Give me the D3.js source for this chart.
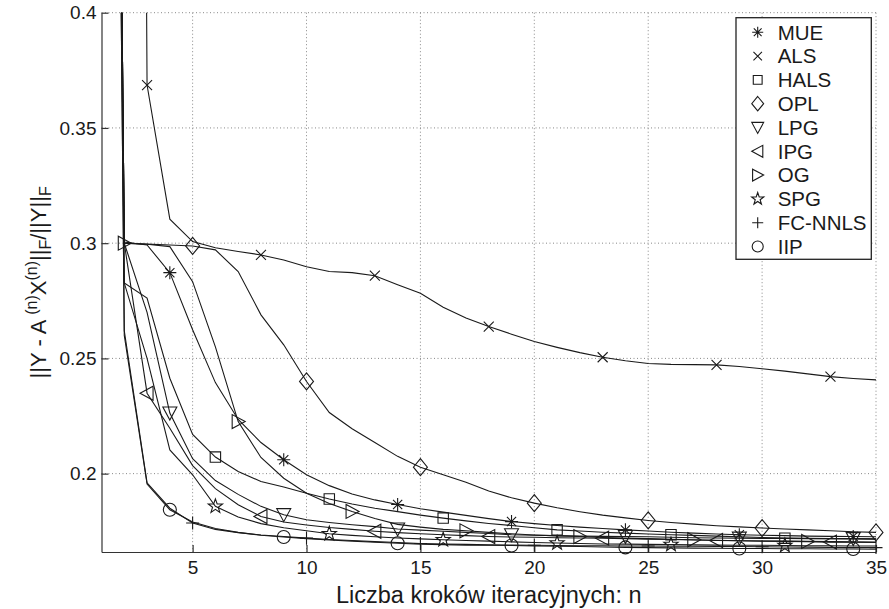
<!DOCTYPE html>
<html>
<head>
<meta charset="utf-8">
<script src="https://cdn.jsdelivr.net/npm/d3@7"></script>
<style>
  body { margin: 0; background: #fff; }
  svg { display: block; font-family: "Liberation Sans", Arial, sans-serif; }
</style>
</head>
<body>
<div id="chart"></div>
<script>
// iteration steps 1..35
var steps = d3.range(1, 36);

var names = ["MUE", "ALS", "HALS", "OPL", "LPG", "IPG", "OG", "SPG", "FC-NNLS", "IIP"];
var symbols = ["asterisk", "cross", "square", "diamond", "triDown", "triLeft", "triRight", "star", "plus", "circle"];
// first step carrying a marker (then every 5 steps)
var markerStart = [4, 3, 1, 5, 4, 3, 2, 1, 5, 4];

var xTicks = [5, 10, 15, 20, 25, 30, 35];
var yTicks = [0.2, 0.25, 0.3, 0.35, 0.4];

var mue = [1.3, 0.3005, 0.2992, 0.2872, 0.2624, 0.2395, 0.2235, 0.2135, 0.206, 0.1995, 0.1948, 0.1912, 0.1886, 0.1866, 0.1848,
  0.1833, 0.1819, 0.1805, 0.1792, 0.1783, 0.1775, 0.1768, 0.1762, 0.1756, 0.1751, 0.1746, 0.1742, 0.1738, 0.1735, 0.1733,
  0.1731, 0.1729, 0.1728, 0.1727, 0.1726];
var als = [2.4, 2.0, 0.3686, 0.3104, 0.3007, 0.298, 0.2964, 0.2949, 0.2927, 0.2898, 0.2877, 0.2872, 0.2859, 0.282, 0.2783,
  0.2722, 0.2675, 0.2638, 0.2605, 0.2573, 0.2548, 0.2525, 0.2505, 0.249, 0.2478, 0.2474, 0.2473, 0.2472, 0.2465, 0.2455,
  0.2445, 0.2433, 0.2421, 0.2413, 0.2407];
var hals = [1.3, 0.2827, 0.2762, 0.2414, 0.217, 0.2072, 0.2009, 0.1966, 0.1942, 0.1915, 0.189, 0.1868, 0.185, 0.1835, 0.182,
  0.1807, 0.1795, 0.1784, 0.1775, 0.1765, 0.1756, 0.1751, 0.1746, 0.1742, 0.1738, 0.1735, 0.1732, 0.1729, 0.1726, 0.1723,
  0.172, 0.1719, 0.1718, 0.1717, 0.1716];
var opl = [1.3, 0.3, 0.2996, 0.2992, 0.2988, 0.2971, 0.2877, 0.2689, 0.2559, 0.24, 0.2265, 0.2195, 0.2135, 0.2075, 0.2028,
  0.1995, 0.1963, 0.1925, 0.1895, 0.1872, 0.1852, 0.1835, 0.182, 0.1808, 0.1797, 0.1788, 0.1781, 0.1774, 0.1769, 0.1764,
  0.176, 0.1756, 0.1752, 0.1748, 0.1745];
var lpg = [1.3, 0.3, 0.27, 0.2263, 0.2065, 0.197, 0.191, 0.1858, 0.1822, 0.18, 0.1788, 0.1778, 0.177, 0.176, 0.1755,
  0.175, 0.1745, 0.174, 0.1735, 0.1733, 0.1731, 0.1729, 0.1728, 0.1727, 0.1726, 0.1724, 0.1722, 0.1721, 0.172, 0.1719,
  0.1719, 0.1718, 0.1718, 0.1718, 0.1717];
var ipg = [1.3, 0.3, 0.2349, 0.2197, 0.2035, 0.1935, 0.1865, 0.1814, 0.179, 0.1777, 0.1766, 0.1758, 0.175, 0.1744, 0.1739,
  0.1735, 0.1731, 0.1727, 0.1725, 0.1724, 0.1722, 0.1721, 0.172, 0.1718, 0.1716, 0.1714, 0.1712, 0.171, 0.1709, 0.1707,
  0.1706, 0.1705, 0.1703, 0.1702, 0.1701];
var og = [1.3, 0.3, 0.2995, 0.2985, 0.2833, 0.255, 0.2226, 0.207, 0.198, 0.1915, 0.187, 0.1836, 0.1805, 0.178, 0.1768,
  0.1758, 0.1752, 0.1745, 0.1739, 0.1734, 0.173, 0.1727, 0.1723, 0.172, 0.1718, 0.1715, 0.1713, 0.1711, 0.1709, 0.1708,
  0.1707, 0.1706, 0.1705, 0.1704, 0.1703];
var spg = [1.3, 0.2827, 0.25, 0.2103, 0.1995, 0.1858, 0.1812, 0.1783, 0.1765, 0.1752, 0.1739, 0.1732, 0.1726, 0.1721, 0.1717,
  0.1713, 0.171, 0.1707, 0.1704, 0.1701, 0.1699, 0.1697, 0.1695, 0.1694, 0.1693, 0.1692, 0.1691, 0.169, 0.1689, 0.1689,
  0.1688, 0.1687, 0.1687, 0.1686, 0.1686];
var fcnnls = [1.3, 0.262, 0.196, 0.185, 0.1786, 0.1758, 0.1744, 0.1734, 0.1727, 0.172, 0.1714, 0.171, 0.1705, 0.1701, 0.1697,
  0.1695, 0.1693, 0.1691, 0.169, 0.1689, 0.1688, 0.1687, 0.1687, 0.1686, 0.1686, 0.1685, 0.1685, 0.1684, 0.1684, 0.1683,
  0.1682, 0.1681, 0.168, 0.1679, 0.1679];
var iip = [1.3, 0.26, 0.1955, 0.1843, 0.179, 0.1762, 0.1745, 0.1733, 0.1725, 0.1718, 0.1712, 0.1707, 0.1702, 0.1698, 0.1694,
  0.1692, 0.169, 0.1689, 0.1688, 0.1686, 0.1685, 0.1684, 0.1682, 0.168, 0.1679, 0.1678, 0.1677, 0.1676, 0.1675, 0.1675,
  0.1674, 0.1674, 0.1673, 0.1673, 0.1672];

var seriesValues = [mue, als, hals, opl, lpg, ipg, og, spg, fcnnls, iip];

var width = 889, height = 609;
var margin = {top: 12.7, right: 13, bottom: 57, left: 101.5};
var plotW = width - margin.left - margin.right;
var plotH = height - margin.top - margin.bottom;

var x = d3.scaleLinear().domain([1, 35]).range([0, plotW]);
var y = d3.scaleLinear().domain([0.166, 0.4]).range([plotH, 0]);

var svg = d3.select("#chart").append("svg")
  .attr("width", width)
  .attr("height", height);

var g = svg.append("g")
  .attr("transform", "translate(" + margin.left + "," + margin.top + ")");

svg.append("defs").append("clipPath").attr("id", "plotClip")
  .append("rect").attr("x", 0).attr("y", 0).attr("width", plotW).attr("height", plotH);

// dotted grid
g.selectAll(".vgrid").data(xTicks).enter().append("line")
  .attr("x1", function(d) { return x(d); }).attr("x2", function(d) { return x(d); })
  .attr("y1", 0).attr("y2", plotH)
  .attr("stroke", "#888").attr("stroke-width", 1).attr("stroke-dasharray", "1,2.5");
g.selectAll(".hgrid").data(yTicks).enter().append("line")
  .attr("x1", 0).attr("x2", plotW)
  .attr("y1", function(d) { return y(d); }).attr("y2", function(d) { return y(d); })
  .attr("stroke", "#888").attr("stroke-width", 1).attr("stroke-dasharray", "1,2.5");

// axes
var xAxis = d3.axisBottom(x).tickValues(xTicks).tickSizeInner(-7).tickSizeOuter(0).tickPadding(9);
var yAxis = d3.axisLeft(y).tickValues(yTicks).tickSizeInner(-7).tickSizeOuter(0).tickPadding(5)
  .tickFormat(function(d) { return String(d); });

var gx = g.append("g").attr("transform", "translate(0," + plotH + ")").call(xAxis);
var gy = g.append("g").call(yAxis);
[gx, gy].forEach(function(a) {
  a.select(".domain").attr("stroke", "#333").attr("stroke-width", 1.2);
  a.selectAll(".tick line").attr("stroke", "#333").attr("stroke-width", 1.2);
  a.selectAll("text").attr("font-size", "19px").attr("fill", "#1a1a1a")
    .attr("font-family", "'Liberation Sans', Arial, sans-serif");
});

// series lines
var line = d3.line()
  .x(function(d, i) { return x(steps[i]); })
  .y(function(d) { return y(d); });

g.append("g").attr("clip-path", "url(#plotClip)")
  .selectAll("path").data(seriesValues).enter().append("path")
  .attr("d", line)
  .attr("fill", "none")
  .attr("stroke", "#1a1a1a")
  .attr("stroke-width", 1.1);

// marker shapes
function markerPath(type, s) {
  var p = d3.path(), r, i, a;
  switch (type) {
    case "asterisk":
      r = 6.5 * s;
      for (i = 0; i < 4; i++) {
        a = i * Math.PI / 4;
        p.moveTo(-r * Math.cos(a), -r * Math.sin(a));
        p.lineTo(r * Math.cos(a), r * Math.sin(a));
      }
      break;
    case "cross":
      r = 5 * s;
      p.moveTo(-r, -r); p.lineTo(r, r); p.moveTo(-r, r); p.lineTo(r, -r);
      break;
    case "plus":
      r = 6.5 * s;
      p.moveTo(-r, 0); p.lineTo(r, 0); p.moveTo(0, -r); p.lineTo(0, r);
      break;
    case "square":
      r = 5.2 * s;
      p.rect(-r, -r, 2 * r, 2 * r);
      break;
    case "diamond":
      p.moveTo(0, -8.5 * s); p.lineTo(7 * s, 0); p.lineTo(0, 8.5 * s); p.lineTo(-7 * s, 0); p.closePath();
      break;
    case "triDown":
      p.moveTo(-7 * s, -6 * s); p.lineTo(7 * s, -6 * s); p.lineTo(0, 7 * s); p.closePath();
      break;
    case "triLeft":
      p.moveTo(-7 * s, 0); p.lineTo(6 * s, -7 * s); p.lineTo(6 * s, 7 * s); p.closePath();
      break;
    case "triRight":
      p.moveTo(7 * s, 0); p.lineTo(-6 * s, -7 * s); p.lineTo(-6 * s, 7 * s); p.closePath();
      break;
    case "star":
      for (i = 0; i < 10; i++) {
        r = (i % 2 === 0 ? 7.5 : 3) * s;
        a = -Math.PI / 2 + i * Math.PI / 5;
        if (i === 0) p.moveTo(r * Math.cos(a), r * Math.sin(a));
        else p.lineTo(r * Math.cos(a), r * Math.sin(a));
      }
      p.closePath();
      break;
    case "circle":
      r = 6.5 * s;
      p.arc(0, 0, r, 0, 2 * Math.PI);
      break;
  }
  return p.toString();
}

// markers every 5 steps
seriesValues.forEach(function(vals, k) {
  var pts = steps.map(function(st, i) { return {x: st, v: vals[i]}; })
    .filter(function(d) { return (d.x - markerStart[k]) % 5 === 0 && d.v <= 0.4; });
  g.append("g").selectAll("path").data(pts).enter().append("path")
    .attr("transform", function(d) { return "translate(" + x(d.x) + "," + y(d.v) + ")"; })
    .attr("d", markerPath(symbols[k], 1))
    .attr("fill", "none")
    .attr("stroke", "#1a1a1a")
    .attr("stroke-width", 1.1);
});

// axis titles
svg.append("text")
  .attr("x", margin.left + plotW / 2)
  .attr("y", 603)
  .attr("text-anchor", "middle")
  .attr("font-size", "23.5px")
  .attr("fill", "#1a1a1a")
  .text("Liczba kroków iteracyjnych: n");

var yl = svg.append("text")
  .attr("transform", "translate(46," + (margin.top + plotH / 2) + ") rotate(-90)")
  .attr("text-anchor", "middle")
  .attr("font-size", "22px")
  .attr("fill", "#1a1a1a");
yl.append("tspan").text("||Y - A ");
yl.append("tspan").attr("font-size", "16px").attr("dy", -9).text("(n)");
yl.append("tspan").attr("dy", 9).text("X");
yl.append("tspan").attr("font-size", "16px").attr("dy", -9).text("(n)");
yl.append("tspan").attr("dy", 9).text("||");
yl.append("tspan").attr("font-size", "16px").attr("dy", 5).text("F");
yl.append("tspan").attr("dy", -5).text("/||Y||");
yl.append("tspan").attr("font-size", "16px").attr("dy", 5).text("F");

// legend
var legX = 736, legY = 17.7, legW = 135.3, legH = 241.6, legStep = 23.8;
var leg = svg.append("g");
leg.append("rect")
  .attr("x", legX).attr("y", legY).attr("width", legW).attr("height", legH)
  .attr("fill", "#fff").attr("stroke", "#222").attr("stroke-width", 1.3);
var items = leg.selectAll(".item").data(names).enter().append("g")
  .attr("transform", function(d, i) { return "translate(0," + (legY + 14.6 + i * legStep) + ")"; });
items.append("path")
  .attr("transform", "translate(" + 757.7 + ",0)")
  .attr("d", function(d, i) { return markerPath(symbols[i], 0.85); })
  .attr("fill", "none").attr("stroke", "#1a1a1a").attr("stroke-width", 1.1);
items.append("text")
  .attr("x", 777.7).attr("y", 0).attr("dy", "0.36em")
  .attr("font-size", "20.5px").attr("fill", "#1a1a1a")
  .text(function(d) { return d; });
</script>
</body>
</html>
